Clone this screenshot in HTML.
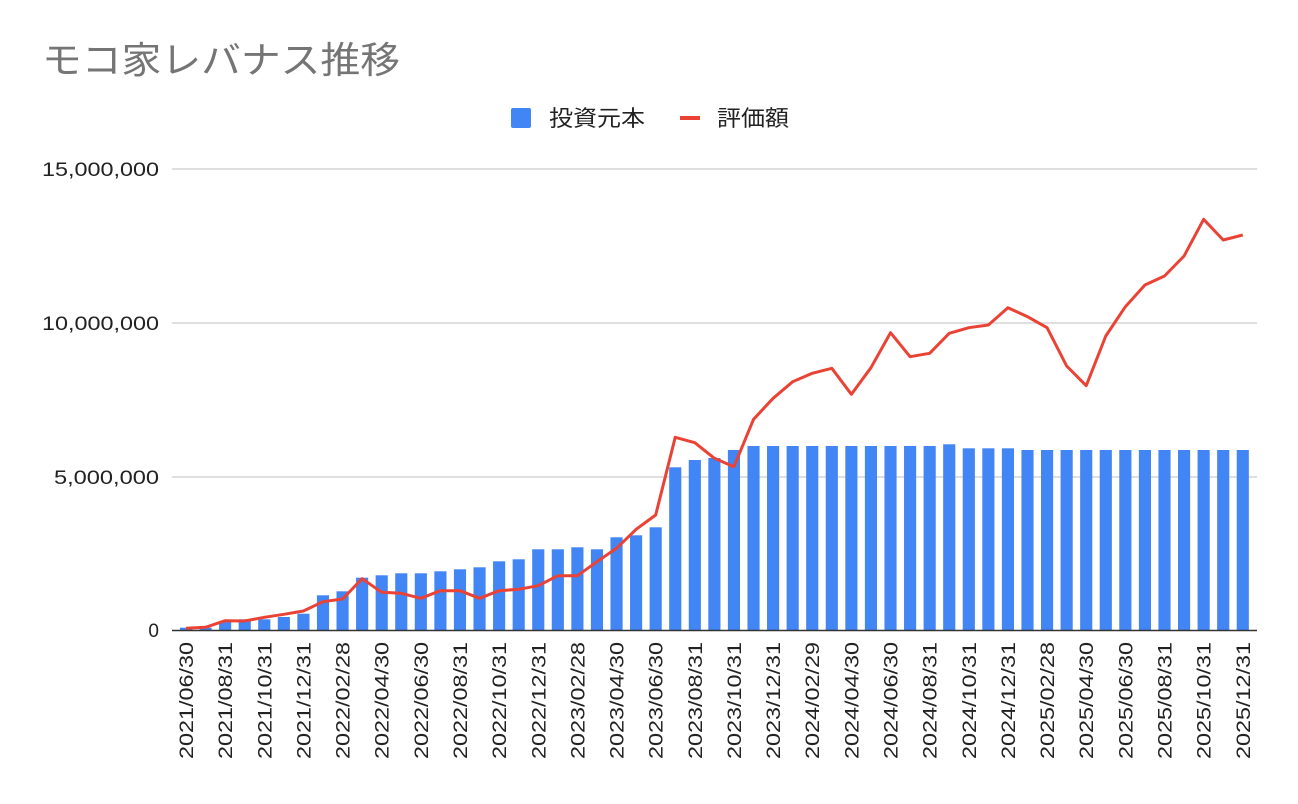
<!DOCTYPE html>
<html><head><meta charset="utf-8"><style>
body{margin:0;background:#fff;}
svg{display:block;font-family:"Liberation Sans","Noto Sans CJK JP",sans-serif;}
</style></head><body>
<svg width="1298" height="804" viewBox="0 0 1298 804" xmlns="http://www.w3.org/2000/svg">
<rect width="1298" height="804" fill="#fff"/>
<text x="42" y="73" font-size="37" fill="#757575" textLength="358" lengthAdjust="spacingAndGlyphs">モコ家レバナス推移</text>
<rect x="511" y="108" width="20" height="20" rx="2" fill="#4285f4"/>
<text x="549" y="126" font-size="22" fill="#222" textLength="96" lengthAdjust="spacingAndGlyphs">投資元本</text>
<rect x="680" y="116" width="20" height="4" fill="#ea4335"/>
<text x="717" y="126" font-size="22" fill="#222" textLength="72" lengthAdjust="spacingAndGlyphs">評価額</text>
<g stroke="#cccccc" stroke-width="1.3">
<line x1="172" y1="169" x2="1257" y2="169"/>
<line x1="172" y1="323" x2="1257" y2="323"/>
<line x1="172" y1="477" x2="1257" y2="477"/>
</g>
<g font-size="19" fill="#222" text-anchor="end">
<text x="159" y="176" textLength="117" lengthAdjust="spacingAndGlyphs">15,000,000</text>
<text x="159" y="330" textLength="117" lengthAdjust="spacingAndGlyphs">10,000,000</text>
<text x="159" y="484" textLength="105" lengthAdjust="spacingAndGlyphs">5,000,000</text>
<text x="159" y="637">0</text>
</g>
<g transform="translate(186,0) scale(19.57,1)" fill="#4285f4">
<rect x="-0.31" y="627.7" width="0.62" height="2.3"/>
<rect x="0.69" y="627.7" width="0.62" height="2.3"/>
<rect x="1.69" y="622" width="0.62" height="8"/>
<rect x="2.69" y="619.3" width="0.62" height="10.7"/>
<rect x="3.69" y="619.3" width="0.62" height="10.7"/>
<rect x="4.69" y="617" width="0.62" height="13"/>
<rect x="5.69" y="613.7" width="0.62" height="16.3"/>
<rect x="6.69" y="595.3" width="0.62" height="34.7"/>
<rect x="7.69" y="591.3" width="0.62" height="38.7"/>
<rect x="8.69" y="577.7" width="0.62" height="52.3"/>
<rect x="9.69" y="575.3" width="0.62" height="54.7"/>
<rect x="10.69" y="573.3" width="0.62" height="56.7"/>
<rect x="11.69" y="573.3" width="0.62" height="56.7"/>
<rect x="12.69" y="571.3" width="0.62" height="58.7"/>
<rect x="13.69" y="569.3" width="0.62" height="60.7"/>
<rect x="14.69" y="567.3" width="0.62" height="62.7"/>
<rect x="15.69" y="561.3" width="0.62" height="68.7"/>
<rect x="16.69" y="559.3" width="0.62" height="70.7"/>
<rect x="17.69" y="549.3" width="0.62" height="80.7"/>
<rect x="18.69" y="549.3" width="0.62" height="80.7"/>
<rect x="19.69" y="547.3" width="0.62" height="82.7"/>
<rect x="20.69" y="549.3" width="0.62" height="80.7"/>
<rect x="21.69" y="537.3" width="0.62" height="92.7"/>
<rect x="22.69" y="535.3" width="0.62" height="94.7"/>
<rect x="23.69" y="527.3" width="0.62" height="102.7"/>
<rect x="24.69" y="467.3" width="0.62" height="162.7"/>
<rect x="25.69" y="460" width="0.62" height="170"/>
<rect x="26.69" y="458" width="0.62" height="172"/>
<rect x="27.69" y="450" width="0.62" height="180"/>
<rect x="28.69" y="446" width="0.62" height="184"/>
<rect x="29.69" y="446" width="0.62" height="184"/>
<rect x="30.69" y="446" width="0.62" height="184"/>
<rect x="31.69" y="446" width="0.62" height="184"/>
<rect x="32.69" y="446" width="0.62" height="184"/>
<rect x="33.69" y="446" width="0.62" height="184"/>
<rect x="34.69" y="446" width="0.62" height="184"/>
<rect x="35.69" y="446" width="0.62" height="184"/>
<rect x="36.69" y="446" width="0.62" height="184"/>
<rect x="37.69" y="446" width="0.62" height="184"/>
<rect x="38.69" y="444.3" width="0.62" height="185.7"/>
<rect x="39.69" y="448.3" width="0.62" height="181.7"/>
<rect x="40.69" y="448.3" width="0.62" height="181.7"/>
<rect x="41.69" y="448.3" width="0.62" height="181.7"/>
<rect x="42.69" y="450" width="0.62" height="180"/>
<rect x="43.69" y="450" width="0.62" height="180"/>
<rect x="44.69" y="450" width="0.62" height="180"/>
<rect x="45.69" y="450" width="0.62" height="180"/>
<rect x="46.69" y="450" width="0.62" height="180"/>
<rect x="47.69" y="450" width="0.62" height="180"/>
<rect x="48.69" y="450" width="0.62" height="180"/>
<rect x="49.69" y="450" width="0.62" height="180"/>
<rect x="50.69" y="450" width="0.62" height="180"/>
<rect x="51.69" y="450" width="0.62" height="180"/>
<rect x="52.69" y="450" width="0.62" height="180"/>
<rect x="53.69" y="450" width="0.62" height="180"/>
</g>
<line x1="172" y1="630.5" x2="1257" y2="630.5" stroke="#333" stroke-width="1.5"/>
<g transform="translate(186,0) scale(19.57,1)">
<polyline fill="none" stroke="#ea4335" stroke-width="3" stroke-linejoin="round" vector-effect="non-scaling-stroke" points="0,628.3 1,627.3 2,620.7 3,621 4,617.3 5,614.3 6,611 7,601.7 8,599 9,578.7 10,592.3 11,593.3 12,598.3 13,590.7 14,590.7 15,598.3 16,590.7 17,589.3 18,585.7 19,575.7 20,575.7 21,561.7 22,548.3 23,529.3 24,515 25,437.3 26,442.7 27,458.3 28,466.7 29,419.3 30,398.3 31,381.7 32,373.3 33,368.3 34,394.3 35,367.7 36,332.7 37,356.7 38,353.3 39,333.3 40,327.7 41,325 42,307.7 43,316.7 44,327.7 45,366 46,385.7 47,336 48,306.7 49,285 50,276 51,256 52,219.3 53,240 54,235"/>
</g>
<g font-size="19" fill="#222" text-anchor="end">
<text transform="translate(193,642) rotate(-90)" textLength="117" lengthAdjust="spacingAndGlyphs">2021/06/30</text>
<text transform="translate(232.1,642) rotate(-90)" textLength="117" lengthAdjust="spacingAndGlyphs">2021/08/31</text>
<text transform="translate(271.3,642) rotate(-90)" textLength="117" lengthAdjust="spacingAndGlyphs">2021/10/31</text>
<text transform="translate(310.4,642) rotate(-90)" textLength="117" lengthAdjust="spacingAndGlyphs">2021/12/31</text>
<text transform="translate(349.6,642) rotate(-90)" textLength="117" lengthAdjust="spacingAndGlyphs">2022/02/28</text>
<text transform="translate(388.7,642) rotate(-90)" textLength="117" lengthAdjust="spacingAndGlyphs">2022/04/30</text>
<text transform="translate(427.8,642) rotate(-90)" textLength="117" lengthAdjust="spacingAndGlyphs">2022/06/30</text>
<text transform="translate(467,642) rotate(-90)" textLength="117" lengthAdjust="spacingAndGlyphs">2022/08/31</text>
<text transform="translate(506.1,642) rotate(-90)" textLength="117" lengthAdjust="spacingAndGlyphs">2022/10/31</text>
<text transform="translate(545.3,642) rotate(-90)" textLength="117" lengthAdjust="spacingAndGlyphs">2022/12/31</text>
<text transform="translate(584.4,642) rotate(-90)" textLength="117" lengthAdjust="spacingAndGlyphs">2023/02/28</text>
<text transform="translate(623.5,642) rotate(-90)" textLength="117" lengthAdjust="spacingAndGlyphs">2023/04/30</text>
<text transform="translate(662.7,642) rotate(-90)" textLength="117" lengthAdjust="spacingAndGlyphs">2023/06/30</text>
<text transform="translate(701.8,642) rotate(-90)" textLength="117" lengthAdjust="spacingAndGlyphs">2023/08/31</text>
<text transform="translate(741,642) rotate(-90)" textLength="117" lengthAdjust="spacingAndGlyphs">2023/10/31</text>
<text transform="translate(780.1,642) rotate(-90)" textLength="117" lengthAdjust="spacingAndGlyphs">2023/12/31</text>
<text transform="translate(819.2,642) rotate(-90)" textLength="117" lengthAdjust="spacingAndGlyphs">2024/02/29</text>
<text transform="translate(858.4,642) rotate(-90)" textLength="117" lengthAdjust="spacingAndGlyphs">2024/04/30</text>
<text transform="translate(897.5,642) rotate(-90)" textLength="117" lengthAdjust="spacingAndGlyphs">2024/06/30</text>
<text transform="translate(936.7,642) rotate(-90)" textLength="117" lengthAdjust="spacingAndGlyphs">2024/08/31</text>
<text transform="translate(975.8,642) rotate(-90)" textLength="117" lengthAdjust="spacingAndGlyphs">2024/10/31</text>
<text transform="translate(1014.9,642) rotate(-90)" textLength="117" lengthAdjust="spacingAndGlyphs">2024/12/31</text>
<text transform="translate(1054.1,642) rotate(-90)" textLength="117" lengthAdjust="spacingAndGlyphs">2025/02/28</text>
<text transform="translate(1093.2,642) rotate(-90)" textLength="117" lengthAdjust="spacingAndGlyphs">2025/04/30</text>
<text transform="translate(1132.4,642) rotate(-90)" textLength="117" lengthAdjust="spacingAndGlyphs">2025/06/30</text>
<text transform="translate(1171.5,642) rotate(-90)" textLength="117" lengthAdjust="spacingAndGlyphs">2025/08/31</text>
<text transform="translate(1210.6,642) rotate(-90)" textLength="117" lengthAdjust="spacingAndGlyphs">2025/10/31</text>
<text transform="translate(1249.8,642) rotate(-90)" textLength="117" lengthAdjust="spacingAndGlyphs">2025/12/31</text>
</g>
</svg>
</body></html>
